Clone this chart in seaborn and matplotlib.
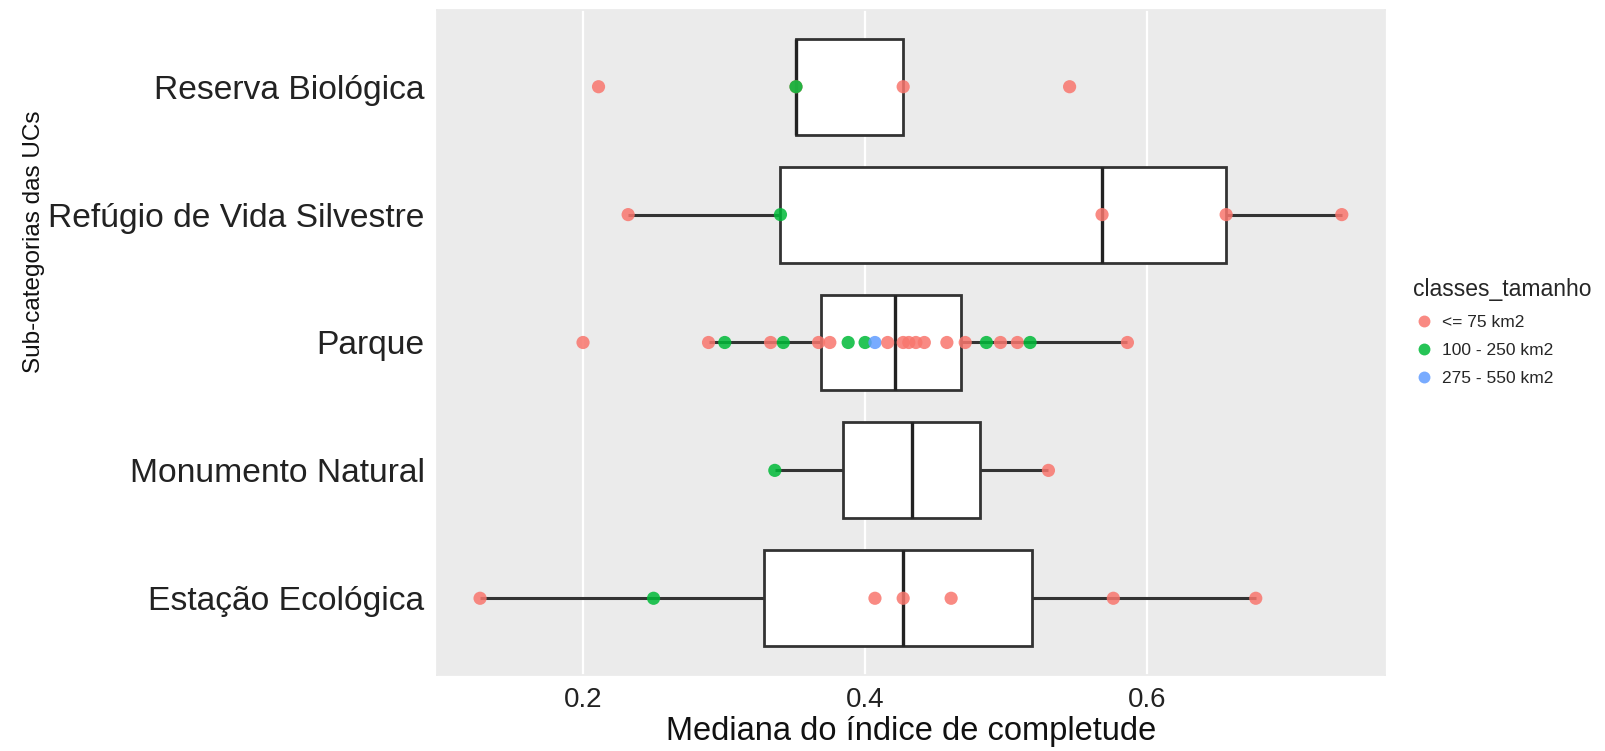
"""
Boxplot horizontal: mediana do índice de completude por sub-categoria de UC.
"""
import numpy as np
import pandas as pd
import matplotlib
matplotlib.use("Agg")
import matplotlib.pyplot as plt
import seaborn as sns

# Categorias (de cima para baixo)
categorias = ["Reserva Biológica", "Refúgio de Vida Silvestre", "Parque",
              "Monumento Natural", "Estação Ecológica"]
classes = ["<= 75 km2", "100 - 250 km2", "275 - 550 km2"]
cores = ["#F8766D", "#00BA38", "#619CFF"]

# Valores, com a classe de tamanho de cada ponto
reserva_val = [0.211, 0.351, 0.351, 0.427, 0.545]
reserva_cls = [0, 0, 1, 0, 0]

refugio_val = [0.232, 0.340, 0.568, 0.656, 0.738]
refugio_cls = [0, 1, 0, 0, 0]

parque_val = [0.200, 0.289, 0.3005, 0.333, 0.342, 0.367, 0.375, 0.388, 0.400,
              0.407, 0.416, 0.427, 0.431, 0.436, 0.442, 0.458, 0.471, 0.486,
              0.496, 0.508, 0.517, 0.586]
parque_cls = [0, 0, 1, 0, 1, 0, 0, 1, 1,
              2, 0, 0, 0, 0, 0, 0, 0, 1,
              0, 0, 1, 0]

monumento_val = [0.336, 0.530]
monumento_cls = [1, 0]

estacao_val = [0.127, 0.250, 0.407, 0.427, 0.461, 0.576, 0.677]
estacao_cls = [0, 1, 0, 0, 0, 0, 0]

linhas = []
for cat, vals, cls in zip(
        categorias,
        [reserva_val, refugio_val, parque_val, monumento_val, estacao_val],
        [reserva_cls, refugio_cls, parque_cls, monumento_cls, estacao_cls]):
    for v, c in zip(vals, cls):
        linhas.append({"categoria": cat, "valor": v, "classe": classes[c]})
df = pd.DataFrame(linhas)

sns.set_theme(style="darkgrid", rc={
    "axes.facecolor": "#EBEBEB",
    "grid.color": "white",
    "grid.linewidth": 1.6,
    "axes.edgecolor": "#EBEBEB",
})
plt.rcParams["font.family"] = ["Liberation Sans", "DejaVu Sans"]

fig = plt.figure(figsize=(16.05, 7.51), dpi=100)
ax = fig.add_axes([0.2723, 0.1012, 0.5906, 0.8855])

sns.boxplot(
    data=df, x="valor", y="categoria", order=categorias, orient="h",
    width=0.75, showfliers=False, ax=ax,
    boxprops=dict(facecolor="white", edgecolor="#333333", linewidth=2),
    whiskerprops=dict(color="#333333", linewidth=2.2),
    capprops=dict(linewidth=0),
    medianprops=dict(color="#222222", linewidth=2.4),
)

sns.stripplot(
    data=df, x="valor", y="categoria", order=categorias, orient="h",
    hue="classe", hue_order=classes, palette=cores, jitter=False,
    size=9.5, alpha=0.85, linewidth=0, ax=ax, zorder=5,
)

ax.set_xlim(0.0965, 0.7686)
ax.set_ylim(4.6, -0.6)
ax.set_xticks([0.2, 0.4, 0.6])
ax.set_xticklabels(["0.2", "0.4", "0.6"])
ax.tick_params(axis="both", colors="#333333", length=5,
               width=1.2, pad=4, labelcolor="#222222")
ax.tick_params(axis="y", labelsize=24.2)
ax.tick_params(axis="x", labelsize=20)
ax.set_xlabel("Mediana do índice de completude", fontsize=23.5, color="#111111", labelpad=2)
ax.set_ylabel("Sub-categorias das UCs", fontsize=17.5, color="#111111")
ax.yaxis.set_label_coords(-0.414, 0.651)

# Legenda no estilo ggplot
handles, labels = ax.get_legend_handles_labels()
ax.legend_.remove()
leg = fig.legend(
    handles, labels, title="classes_tamanho",
    loc="upper left", bbox_to_anchor=(0.8705, 0.65),
    frameon=False, fontsize=12.5, title_fontsize=16.5,
    handlelength=1.3, handletextpad=0.4, labelspacing=0.75, markerscale=0.9,
    alignment="left",
)

fig.savefig("out.png", dpi=100)
